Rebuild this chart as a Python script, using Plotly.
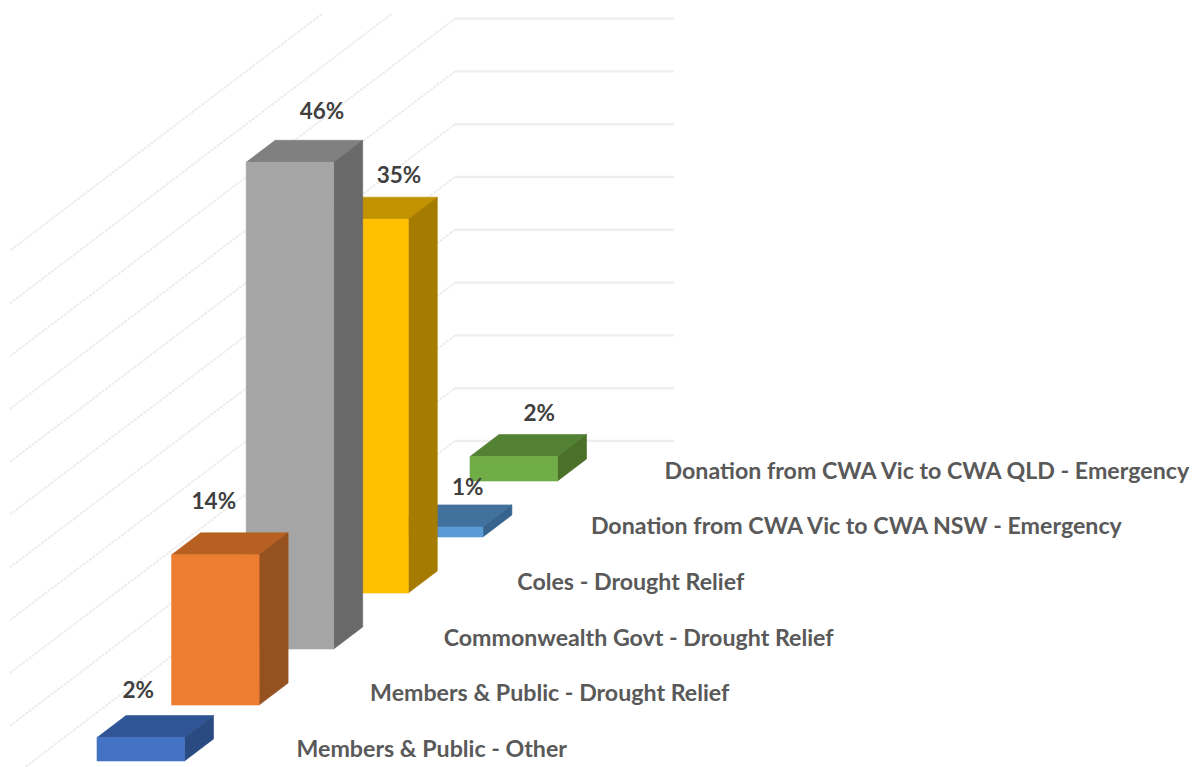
import plotly.graph_objects as go

categories = [
    "Members & Public - Other",
    "Members & Public - Drought Relief",
    "Commonwealth Govt - Drought Relief",
    "Coles - Drought Relief",
    "Donation from CWA Vic to CWA NSW - Emergency",
    "Donation from CWA Vic to CWA QLD - Emergency",
]
values = [2.2, 14.1, 45.7, 35.1, 0.95, 2.3]
grid_levels = [0, 5, 10, 15, 20, 25, 30, 35, 40, 45, 50]
front_colors = ["#4472C4", "#ED7D31", "#A5A5A5", "#FFC000", "#5B9BD5", "#70AD47"]
top_colors = ["#2F5597", "#B85F22", "#808080", "#C29200", "#41719C", "#548235"]
side_colors = ["#2A4A82", "#95511F", "#696969", "#A67C00", "#36648F", "#4A7029"]

W, H = 1201, 767
PX_PER_CAT = 74.6       # pixels per category along x
PX_PER_PCT = 10.65      # pixels per percentage point
WALL_SHRINK = 10.56 / PX_PER_PCT  # back wall sits slightly further away
X0_PX, FLOOR_PX = 97, 441   # first bar's left edge, back-wall floor
CAT_RISE = 56 / PX_PER_PCT  # oblique rise per category (pct units)
BAR_W = 87.5 / PX_PER_CAT
DEPTH_X = 29 / PX_PER_CAT
DEPTH_Y = 22 / PX_PER_PCT
BASE0 = (FLOOR_PX - 761) / PX_PER_PCT  # first bar's base on the axis

# manual label nudges relative to the bar's top face centre (axis units)
LABEL_DX = [-17, -16, 17.5, 20, 14, 11]
LABEL_UP = [23, 29, 27, 20, 16, 19]


def xu(px):
    return (px - X0_PX) / PX_PER_CAT


def yu(px):
    return (FLOOR_PX - px) / PX_PER_PCT


fig = go.Figure()


def poly(xs, ys, color):
    fig.add_trace(go.Scatter(
        x=xs + xs[:1], y=ys + ys[:1], mode="lines", fill="toself",
        fillcolor=color, line=dict(color=color, width=0.6),
        hoverinfo="skip", showlegend=False))


# back wall and side wall gridlines
WALL_X, WALL_END, SIDE_END, TOP_CLIP = xu(455), xu(674), xu(10), yu(14)
SLOPE = DEPTH_Y / DEPTH_X
for lv in grid_levels:
    wall_y = lv * WALL_SHRINK
    if yu(0) >= wall_y:
        fig.add_trace(go.Scatter(
            x=[WALL_X, WALL_END], y=[wall_y, wall_y], mode="lines",
            line=dict(color="#EEEEEE", width=2.4),
            hoverinfo="skip", showlegend=False))
    x_end = WALL_X
    y_end = wall_y
    if wall_y > TOP_CLIP:
        x_end = WALL_X - (wall_y - TOP_CLIP) / SLOPE
        y_end = TOP_CLIP
    fig.add_trace(go.Scatter(
        x=[x_end, SIDE_END], y=[y_end, wall_y - (WALL_X - SIDE_END) * SLOPE],
        mode="lines", line=dict(color="#EBEBEB", width=1.7, dash="3px,1px"),
        hoverinfo="skip", showlegend=False))

# bars, back to front
for i in reversed(range(len(values))):
    left = float(i)
    base = BASE0 + i * CAT_RISE
    top = base + values[i]
    right = left + BAR_W
    poly([left, right, right + DEPTH_X, left + DEPTH_X],
         [top, top, top + DEPTH_Y, top + DEPTH_Y], top_colors[i])
    poly([right, right + DEPTH_X, right + DEPTH_X, right],
         [base, base + DEPTH_Y, top + DEPTH_Y, top], side_colors[i])
    poly([left, right, right, left], [base, base, top, top], front_colors[i])

# value labels
lx, ly, lt = [], [], []
for i, v in enumerate(values):
    base = BASE0 + i * CAT_RISE
    lx.append(i + BAR_W / 2 + DEPTH_X / 2 + LABEL_DX[i] / PX_PER_CAT)
    ly.append(base + v + DEPTH_Y + LABEL_UP[i] / PX_PER_PCT)
    lt.append(f"{v:.0f}%")
fig.add_trace(go.Scatter(
    x=lx, y=ly, text=lt, mode="text", textposition="middle center",
    textfont=dict(family="Lato", size=22.5, color="#404040", weight="bold"),
    hoverinfo="skip", showlegend=False))

# category labels
cx = [xu(296.5 + 73.6 * i) for i in range(len(categories))]
cy = [yu(751 - 55.6 * i) for i in range(len(categories))]
fig.add_trace(go.Scatter(
    x=cx, y=cy, text=categories, mode="text", textposition="middle right",
    textfont=dict(family="Lato", size=23.2, color="#595959", weight="bold"),
    hoverinfo="skip", showlegend=False))

fig.update_layout(
    width=W, height=H, autosize=False,
    margin=dict(l=0, r=0, t=0, b=0),
    paper_bgcolor="white", plot_bgcolor="white",
    xaxis=dict(range=[xu(0), xu(W)], visible=False, fixedrange=True),
    yaxis=dict(range=[yu(H), yu(0)], visible=False, fixedrange=True),
)
fig.write_html("out.html", config={"displayModeBar": False},
               post_script="document.body.style.margin='0';")
